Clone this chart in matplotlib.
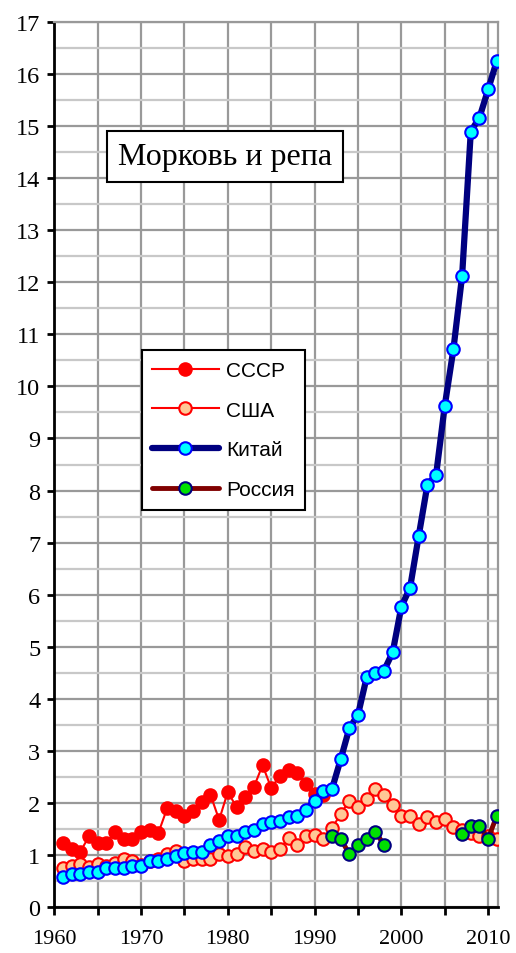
import matplotlib
matplotlib.use("Agg")
import matplotlib.pyplot as plt
from matplotlib.ticker import MultipleLocator
import numpy as np

plt.rcParams.update({
    "font.family": "Liberation Serif",
    "font.size": 16,
    "xtick.labelsize": 16,
    "ytick.labelsize": 17.5,
})

# --- data ---
years = list(range(1961, 2012))

ussr_years = list(range(1961, 1992))
ussr = [1.22, 1.11, 1.06, 1.35, 1.22, 1.22, 1.43, 1.30, 1.31, 1.43,
        1.48, 1.42, 1.89, 1.83, 1.74, 1.83, 2.02, 2.15, 1.67, 2.21,
        1.91, 2.10, 2.30, 2.72, 2.28, 2.52, 2.63, 2.57, 2.36, 2.17,
        2.15]

usa = [0.74, 0.79, 0.83, 0.77, 0.83, 0.79, 0.84, 0.92, 0.88, 0.81,
       0.87, 0.92, 1.01, 1.08, 0.87, 0.92, 0.91, 0.91, 1.01, 0.98,
       1.01, 1.14, 1.07, 1.11, 1.05, 1.11, 1.32, 1.19, 1.35, 1.38,
       1.31, 1.51, 1.78, 2.04, 1.91, 2.07, 2.26, 2.15, 1.96, 1.75,
       1.75, 1.59, 1.72, 1.62, 1.69, 1.53, 1.47, 1.42, 1.35, 1.35,
       1.31]

china = [0.58, 0.63, 0.63, 0.67, 0.67, 0.74, 0.74, 0.75, 0.79, 0.79,
         0.87, 0.87, 0.92, 0.98, 1.03, 1.06, 1.06, 1.19, 1.26, 1.35,
         1.35, 1.43, 1.48, 1.59, 1.62, 1.65, 1.72, 1.75, 1.86, 2.04,
         2.23, 2.26, 2.83, 3.43, 3.69, 4.41, 4.49, 4.54, 4.89, 5.77,
         6.13, 7.13, 8.11, 8.30, 9.63, 10.72, 12.13, 14.90, 15.17, 15.71,
         16.26]

russia_years = list(range(1992, 2012))
russia = [1.35, 1.31, 1.01, 1.19, 1.31, 1.44, 1.19, None, None, None,
          None, None, None, None, None, 1.40, 1.55, 1.55, 1.31, 1.75]

xtick_labels = ["1960", "1970", "1980", "1990", "2000", "2010"]

russia = np.array([np.nan if v is None else v for v in russia])

W, H = 516, 954
fig = plt.figure(figsize=(W / 100, H / 100), dpi=100)
ax = fig.add_axes([54.3 / W, 1 - 907.7 / H, 443.4 / W, 884.4 / H])

ax.set_xlim(1960, 2011.1)
ax.set_ylim(0, 17)

# grid
ax.yaxis.set_major_locator(MultipleLocator(1))
ax.yaxis.set_minor_locator(MultipleLocator(0.5))
ax.xaxis.set_major_locator(MultipleLocator(10))
ax.xaxis.set_minor_locator(MultipleLocator(5))
ax.grid(which="major", axis="y", color="#999999", lw=1.6, zorder=0)
ax.grid(which="minor", axis="y", color="#c8c8c8", lw=1.6, zorder=0)
ax.grid(which="both", axis="x", color="#999999", lw=1.6, zorder=0)
ax.set_axisbelow(True)

for s in ["top", "right"]:
    ax.spines[s].set_color("#999999")
    ax.spines[s].set_linewidth(1.6)
for s in ["left", "bottom"]:
    ax.spines[s].set_color("black")
    ax.spines[s].set_linewidth(2)

ax.tick_params(axis="y", which="major", direction="out", length=5, width=2,
               pad=5)
ax.tick_params(axis="y", which="minor", length=0)
ax.tick_params(axis="x", which="both", direction="out", length=6, width=2,
               pad=10)
ax.set_xticks([int(t) for t in xtick_labels])
ax.set_xticklabels(xtick_labels)

ms = 9
ax.plot(ussr_years, ussr, "-o", color="red", lw=1.5, ms=ms,
        mfc="red", mec="red", mew=1.5, label="СССР", zorder=3)
ax.plot(years, usa, "-o", color="red", lw=1.5, ms=ms,
        mfc="#ffc896", mec="red", mew=1.5, label="США", zorder=4)
ax.plot(years, china, "-o", color="#000080", lw=4.5, ms=ms,
        mfc="cyan", mec="blue", mew=1.5, label="Китай", zorder=5,
        solid_capstyle="round")
ax.plot(russia_years, russia, "-o", color="#800000", lw=3.5, ms=ms,
        mfc="#00e000", mec="#000080", mew=1.5, label="Россия", zorder=6,
        solid_capstyle="round")

leg = ax.legend(loc="upper left", bbox_to_anchor=(0.197, 0.629),
                prop={"family": "Liberation Sans", "size": 15},
                frameon=True, fancybox=False, edgecolor="black",
                framealpha=1, borderpad=0.5, labelspacing=1.0,
                handlelength=3.2, handletextpad=0.35, borderaxespad=0)
leg.get_frame().set_linewidth(1.5)

ax.text(0.385, 0.848, "Морковь и репа", transform=ax.transAxes,
        ha="center", va="center", fontsize=23, family="Liberation Serif",
        bbox=dict(boxstyle="square,pad=0.34", fc="white", ec="black", lw=1.5),
        zorder=10)

fig.savefig("out.png", dpi=100)
